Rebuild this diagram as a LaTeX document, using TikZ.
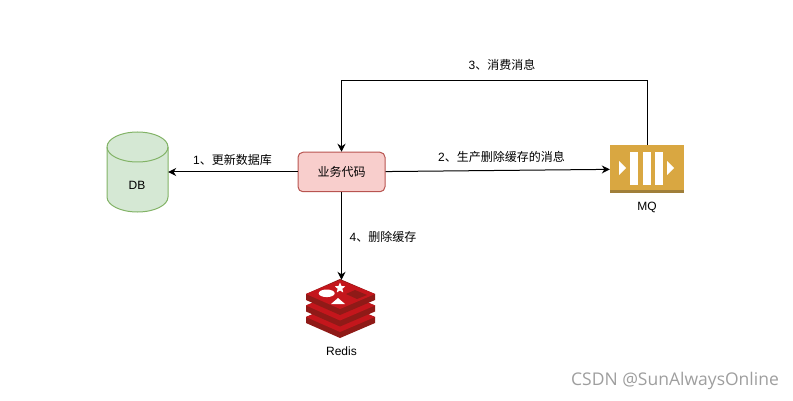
\documentclass[tikz,border=0pt]{standalone}
\usepackage{fontspec}
\setmainfont{Liberation Sans}
\newfontfamily\cjk{Noto Sans CJK SC}
\newfontfamily\markfont{Open Sans}
\usetikzlibrary{arrows.meta, shapes.geometric, positioning}
\definecolor{mqgold}{HTML}{D9A741}
\definecolor{mqdark}{HTML}{A07F3A}
\definecolor{redistop}{HTML}{C4161C}
\definecolor{redisside}{HTML}{8F1A17}
\definecolor{dbfill}{HTML}{D5E8D4}
\definecolor{dbline}{HTML}{82B366}
\definecolor{bizfill}{HTML}{F8CECC}
\definecolor{bizline}{HTML}{B85450}

\begin{document}
\begin{tikzpicture}[
  x=1pt, y=-1pt,
  arr/.style={-{Stealth[length=8pt,width=8pt]}, line width=1pt, black},
  lbl/.style={font=\fontsize{12pt}{13pt}\selectfont, inner sep=0pt, align=center},
  blk/.style={rectangle, draw=#1, line width=1pt, rounded corners=5pt},
  icon/.style={rectangle, minimum width=#1, inner sep=0pt}
]
\useasboundingbox (0,0) rectangle (793,401);
% db cylinder
\filldraw[draw=dbline, fill=dbfill, line width=1pt] (107,147) arc[start angle=180, end angle=0, x radius=30.5pt, y radius=15pt]
  -- (168,197) arc[start angle=0, end angle=-180, x radius=30.5pt, y radius=15pt] -- cycle;
\draw[dbline, line width=1pt] (107,147) arc[start angle=180, end angle=360, x radius=30.5pt, y radius=15pt];
% main nodes
\node[icon=61pt, minimum height=80pt] (db) at (137.5,172) {};
\node[lbl] (dbtxt) at (137,185) {DB};
\node[blk=bizline, lbl, fill=bizfill, minimum width=87pt, minimum height=39.5pt] (biz) at (341.5,172)
  {\cjk 业务代码};
\node[icon=74pt, fill=mqgold, minimum height=48pt] (mq) at (647,169) {};
\node[lbl, below=9pt of mq] (mqtxt) {MQ};
\node[icon=70pt, minimum height=52pt] (redis) at (341.5,306) {};
\node[lbl, below=14.5pt of redis] (redistxt) {Redis};
% mq icon
\fill[mqdark] (610,190) rectangle (684,193);
\foreach \a in {630,643,655}
  \fill[white] (\a,152) rectangle (\a+8,185);
\foreach \a in {619,667}
  \fill[white] (\a,161) -- (\a+7,168) -- (\a,175) -- cycle;
% redis icon
\foreach \d in {23,11.5,0} {
  \fill[redisside] (306,294+\d) -- (306,300+\d) -- (340,315+\d) -- (375,300+\d) -- (375,294+\d) -- (340,279+\d) -- cycle;
  \fill[redistop] (306,294+\d) -- (340,280+\d) -- (375,294+\d) -- (340,309+\d) -- cycle;
}
\fill[white] (326.7,293.3) ellipse (8pt and 3.8pt);
\fill[white] (338,298) -- (345,304) -- (331,304) -- cycle;
\fill[redisside] (346,294) -- (355,290) -- (367,295) -- (357,299) -- cycle;
\node[star, star points=5, star point ratio=2.2, fill=white, minimum size=11pt, inner sep=0pt] (redisstar) at (340,288) {};
% connectors
\draw[arr] (biz) -- (db);
\draw[arr] (biz) -- (mq);
\draw[arr] (mq.north) -- ++(0,-64) -| (biz.north);
\draw[arr] (biz) -- (redis);
% connector labels
\node[lbl] (l1) at (232.5,160) {1{\cjk 、更新数据库}};
\node[lbl] (l2) at (501.5,157) {2{\cjk 、生产删除缓存的消息}};
\node[lbl] (l3) at (502,65) {3{\cjk 、消费消息}};
\node[lbl] (l4) at (383,237) {4{\cjk 、删除缓存}};
\node[font=\fontsize{17.5pt}{19pt}\markfont, text=black!38, inner sep=0pt] (csdn) at (675,381) {CSDN @SunAlwaysOnline};
\end{tikzpicture}
\end{document}
